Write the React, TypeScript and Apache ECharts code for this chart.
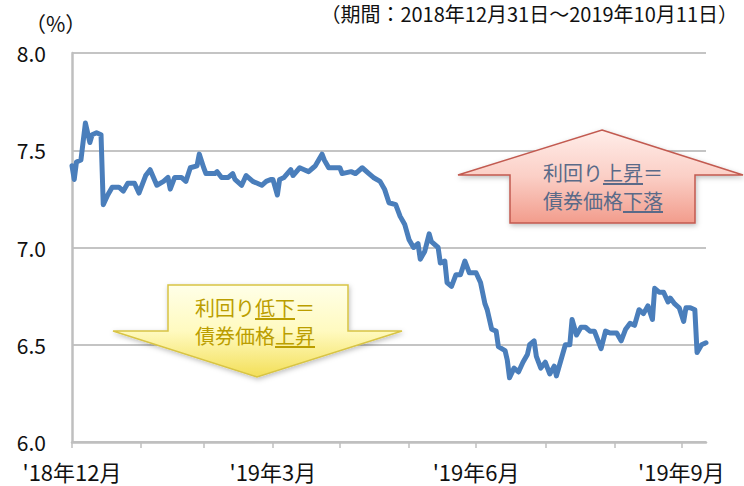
import React, { useEffect, useRef } from "react";
import * as echarts from "echarts";

const dates = [
  "2018-12-31", "2019-01-01", "2019-01-02", "2019-01-04", "2019-01-06", "2019-01-08", "2019-01-09", "2019-01-11",
  "2019-01-13", "2019-01-14", "2019-01-16", "2019-01-18", "2019-01-21", "2019-01-23", "2019-01-25", "2019-01-28",
  "2019-01-30", "2019-02-02", "2019-02-04", "2019-02-07", "2019-02-10", "2019-02-12", "2019-02-13", "2019-02-15",
  "2019-02-18", "2019-02-20", "2019-02-22", "2019-02-25", "2019-02-26", "2019-02-28", "2019-03-01", "2019-03-03",
  "2019-03-05", "2019-03-06", "2019-03-08", "2019-03-11", "2019-03-13", "2019-03-14", "2019-03-17", "2019-03-19",
  "2019-03-22", "2019-03-24", "2019-03-26", "2019-03-28", "2019-03-30", "2019-03-31", "2019-04-02", "2019-04-03",
  "2019-04-05", "2019-04-08", "2019-04-09", "2019-04-12", "2019-04-14", "2019-04-16", "2019-04-18", "2019-04-19",
  "2019-04-22", "2019-04-23", "2019-04-25", "2019-04-28", "2019-04-30", "2019-05-01", "2019-05-05", "2019-05-07",
  "2019-05-10", "2019-05-13", "2019-05-15", "2019-05-18", "2019-05-20", "2019-05-22", "2019-05-25", "2019-05-27",
  "2019-05-29", "2019-05-31", "2019-06-02", "2019-06-04", "2019-06-05", "2019-06-07", "2019-06-09", "2019-06-10",
  "2019-06-13", "2019-06-14", "2019-06-16", "2019-06-17", "2019-06-19", "2019-06-21", "2019-06-23", "2019-06-25",
  "2019-06-27", "2019-06-30", "2019-07-02", "2019-07-04", "2019-07-05", "2019-07-07", "2019-07-09", "2019-07-10",
  "2019-07-13", "2019-07-14", "2019-07-15", "2019-07-17", "2019-07-19", "2019-07-21", "2019-07-23", "2019-07-24",
  "2019-07-26", "2019-07-27", "2019-07-29", "2019-07-31", "2019-08-02", "2019-08-04", "2019-08-05", "2019-08-07",
  "2019-08-09", "2019-08-11", "2019-08-12", "2019-08-14", "2019-08-16", "2019-08-18", "2019-08-20", "2019-08-22",
  "2019-08-25", "2019-08-27", "2019-08-29", "2019-09-01", "2019-09-03", "2019-09-05", "2019-09-07", "2019-09-09",
  "2019-09-11", "2019-09-13", "2019-09-15", "2019-09-17", "2019-09-18", "2019-09-20", "2019-09-22", "2019-09-24",
  "2019-09-25", "2019-09-27", "2019-09-29", "2019-10-01", "2019-10-02", "2019-10-04", "2019-10-06", "2019-10-07",
  "2019-10-09", "2019-10-11",
];

const yields = [
  7.42, 7.35, 7.44, 7.45, 7.64, 7.54, 7.58, 7.59,
  7.58, 7.22, 7.27, 7.31, 7.31, 7.29, 7.33, 7.33,
  7.28, 7.37, 7.40, 7.32, 7.34, 7.36, 7.30, 7.36,
  7.36, 7.34, 7.41, 7.42, 7.48, 7.41, 7.38, 7.38,
  7.38, 7.39, 7.36, 7.36, 7.38, 7.35, 7.32, 7.37,
  7.34, 7.33, 7.32, 7.34, 7.35, 7.35, 7.27, 7.35,
  7.36, 7.40, 7.37, 7.41, 7.40, 7.39, 7.41, 7.42,
  7.48, 7.45, 7.41, 7.41, 7.41, 7.38, 7.39, 7.38,
  7.41, 7.38, 7.36, 7.34, 7.30, 7.23, 7.22, 7.16,
  7.12, 7.04, 7.00, 7.02, 6.94, 6.98, 7.07, 7.03,
  7.00, 6.92, 6.93, 6.82, 6.80, 6.86, 6.86, 6.93,
  6.87, 6.87, 6.82, 6.71, 6.68, 6.58, 6.57, 6.49,
  6.47, 6.42, 6.33, 6.38, 6.36, 6.41, 6.45, 6.50,
  6.52, 6.44, 6.38, 6.41, 6.35, 6.39, 6.34, 6.42,
  6.50, 6.50, 6.63, 6.55, 6.59, 6.59, 6.57, 6.57,
  6.48, 6.57, 6.56, 6.56, 6.52, 6.58, 6.61, 6.60,
  6.68, 6.66, 6.70, 6.63, 6.79, 6.77, 6.77, 6.72,
  6.74, 6.71, 6.69, 6.62, 6.69, 6.69, 6.68, 6.46,
  6.50, 6.51,
];

const startDate = "2018-12-31";
const endDate = "2019-10-11";
const monthTickDates = [
  "2018-12-31", "2019-01-31", "2019-02-28", "2019-03-31", "2019-04-30",
  "2019-05-31", "2019-06-30", "2019-07-31", "2019-08-31", "2019-09-30",
];
const labelDates = ["2018-12-31", "2019-03-31", "2019-06-30", "2019-09-30"];
const xTickLabels = ["'18年12月", "'19年3月", "'19年6月", "'19年9月"];

const titleText = "（期間：2018年12月31日～2019年10月11日）";
const unitText = "（%）";
const upArrowLines = [["利回り", "上昇", "＝"], ["債券価格", "下落", ""]];
const downArrowLines = [["利回り", "低下", "＝"], ["債券価格", "上昇", ""]];

const FONT = '"Noto Sans CJK JP", "Noto Sans", sans-serif';

function dayOf(s: string): number {
  const [y, m, d] = s.split("-").map(Number);
  const base = Date.UTC(2018, 11, 31);
  return Math.round((Date.UTC(y, m - 1, d) - base) / 86400000);
}

function arrowText(
  lines: string[][],
  cx: number,
  ys: number[],
  color: string,
  fs: number
): any[] {
  const els: any[] = [];
  lines.forEach((parts, li) => {
    const total = parts.join("").length * fs;
    let x = cx - total / 2;
    parts.forEach((p, pi) => {
      if (!p) return;
      els.push({
        type: "text",
        z: 20,
        style: {
          text: p,
          x,
          y: ys[li],
          font: `${fs}px ${FONT}`,
          lineHeight: fs + 1,
          fill: color,
          align: "left",
          verticalAlign: "middle",
        },
      });
      if (pi === 1) {
        els.push({
          type: "line",
          z: 20,
          shape: { x1: x, y1: ys[li] + fs / 2 + 2, x2: x + p.length * fs, y2: ys[li] + fs / 2 + 2 },
          style: { stroke: color, lineWidth: 2 },
        });
      }
      x += p.length * fs;
    });
  });
  return els;
}

export default function App() {
  const ref = useRef<HTMLDivElement>(null);
  useEffect(() => {
    document.body.style.margin = "0";
    if (!ref.current) return;
    const chart = echarts.init(ref.current, undefined, { renderer: "svg" });
    const labelMap: Record<number, string> = {};
    labelDates.forEach((d, i) => (labelMap[dayOf(d)] = xTickLabels[i]));

    const data = dates.map((d, i) => [dayOf(d), yields[i]]);

    const yellowFill = new echarts.graphic.LinearGradient(0, 0, 0, 1, [
      { offset: 0, color: "#FFFFE8" },
      { offset: 0.5, color: "#FFFAC0" },
      { offset: 1, color: "#F3DF58" },
    ]);
    const pinkFill = new echarts.graphic.LinearGradient(0, 0, 0, 1, [
      { offset: 0, color: "#FFEDE9" },
      { offset: 0.5, color: "#FBCFC6" },
      { offset: 1, color: "#F29C8C" },
    ]);

    chart.setOption({
      animation: false,
      grid: { left: 72, right: 38, top: 53, bottom: 44, containLabel: false },
      xAxis: {
        type: "value",
        min: dayOf(startDate),
        max: dayOf(endDate),
        axisLine: { show: true, lineStyle: { color: "#BFBFBF", width: 2.5 } },
        axisTick: {
          show: true,
          customValues: monthTickDates.map(dayOf),
          length: 6,
          lineStyle: { color: "#BFBFBF", width: 1.5 },
        },
        axisLabel: {
          customValues: labelDates.map(dayOf),
          formatter: (v: number) => labelMap[v] ?? "",
          fontFamily: FONT,
          fontSize: 22,
          lineHeight: 23,
          color: "#111",
          margin: 17,
        },
        splitLine: { show: false },
      },
      yAxis: {
        type: "value",
        min: 6,
        max: 8,
        interval: 0.5,
        axisLine: { show: true, lineStyle: { color: "#BFBFBF", width: 2.5 } },
        axisTick: { show: false },
        axisLabel: {
          formatter: (v: number) => v.toFixed(1),
          fontFamily: FONT,
          fontSize: 21,
          lineHeight: 21,
          color: "#111",
          margin: 26,
        },
        splitLine: { show: true, lineStyle: { color: "#C4C4C4", width: 2 } },
      },
      series: [
        {
          type: "line",
          data,
          showSymbol: false,
          symbol: "none",
          lineStyle: { color: "#4A7EBB", width: 5, join: "round", cap: "round" },
          z: 5,
        },
      ],
      graphic: [
        {
          type: "text",
          z: 20,
          style: {
            text: titleText,
            x: 738,
            y: 13,
            font: `20px ${FONT}`,
            lineHeight: 22,
            fill: "#111",
            align: "right",
            verticalAlign: "middle",
          },
        },
        {
          type: "text",
          z: 20,
          style: {
            text: unitText,
            x: 25,
            y: 23,
            font: `21px ${FONT}`,
            lineHeight: 22,
            fill: "#111",
            align: "left",
            verticalAlign: "middle",
          },
        },
        {
          type: "polygon",
          z: 10,
          shape: {
            points: [
              [168, 285], [348, 285], [348, 331], [402, 331], [257, 377], [113, 331], [168, 331],
            ],
          },
          style: {
            fill: yellowFill,
            stroke: "#D8C444",
            lineWidth: 1.5,
            shadowBlur: 5,
            shadowColor: "rgba(0,0,0,0.25)",
            shadowOffsetX: 1,
            shadowOffsetY: 2,
          },
        },
        {
          type: "polygon",
          z: 10,
          shape: {
            points: [
              [602, 130], [743, 175], [695, 175], [695, 223], [510, 223], [510, 175], [458, 175],
            ],
          },
          style: {
            fill: pinkFill,
            stroke: "#C25A50",
            lineWidth: 1.5,
            shadowBlur: 5,
            shadowColor: "rgba(0,0,0,0.25)",
            shadowOffsetX: 1,
            shadowOffsetY: 2,
          },
        },
        ...arrowText(downArrowLines, 255, [307, 335], "#BB9E00", 20),
        ...arrowText(upArrowLines, 603, [172, 200], "#5A6A88", 20),
      ],
    });
    return () => chart.dispose();
  }, []);
  return (
    <div
      ref={ref}
      style={{ position: "absolute", left: 0, top: 0, width: 744, height: 486 }}
    />
  );
}
